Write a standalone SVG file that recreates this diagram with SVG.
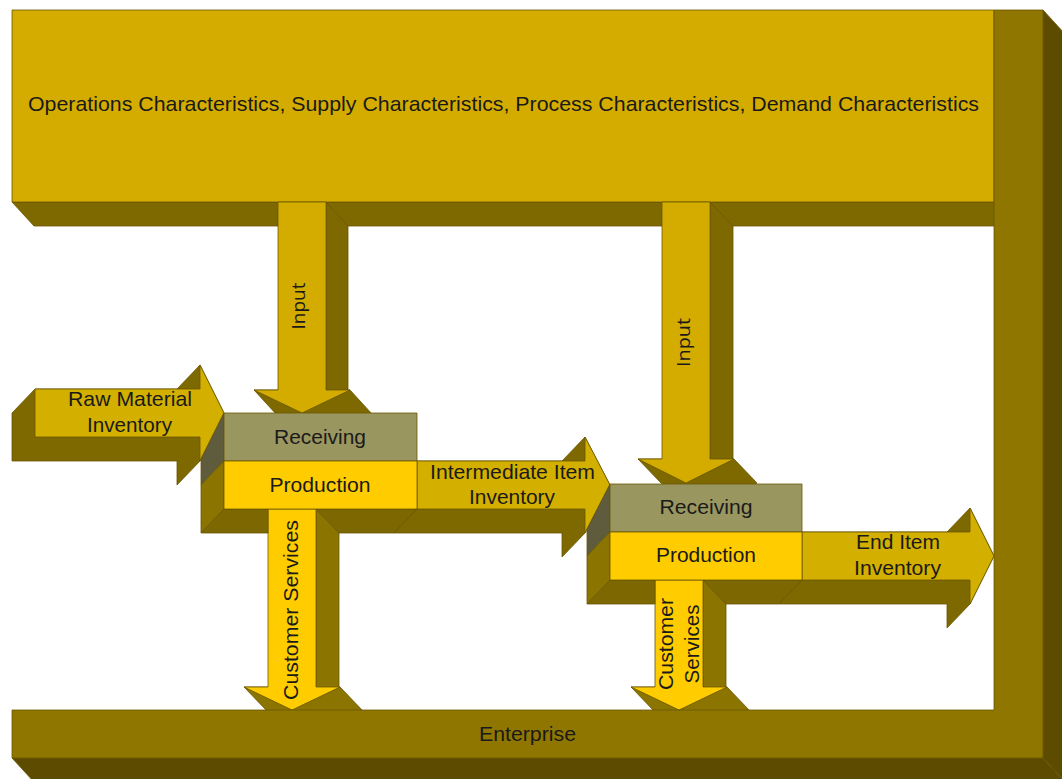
<svg xmlns="http://www.w3.org/2000/svg" width="1062" height="779" viewBox="0 0 1062 779">
<style>
  .e { stroke: #6A5700; stroke-width: 0.8; stroke-linejoin: round; }
  .gold { fill: #D4AC00; }
  .olive { fill: #7E6800; }
  .hfront { fill: #D3B000; }
  .yellow { fill: #FFCC00; }
  .csside { fill: #8C7400; }
  .recv { fill: #9A9660; }
  .recvside { fill: #5E5C3C; }
  .prodside { fill: #8C7400; }
  .prodbottom { fill: #7C6700; }
  .frame { fill: #8F7600; }
  .frameside { fill: #5D4C00; }
  text { font-family: "Liberation Sans", Arial, sans-serif; font-size: 21px; fill: #1A1A1A; }
  .mid { text-anchor: middle; }
  .inp { font-family: "Open Sans", "Noto Sans", sans-serif; font-size: 18px; text-anchor: middle; }
</style>

<g id="characteristics">
  <polygon class="olive e" points="12,202 994,202 1016,226 34,226"/>
  <rect class="gold e" x="12" y="10" width="982" height="192"/>
  <text x="28" y="111" textLength="951" lengthAdjust="spacingAndGlyphs">Operations Characteristics, Supply Characteristics, Process Characteristics, Demand Characteristics</text>
</g>

<g id="connectors">
  <g id="input-1">
    <polygon class="olive e" points="326,202 348,226 348,390 350,390 372,414 324,437 276,414 254,390 326,390"/>
    <polygon class="gold e" points="278,202 326,202 326,390 350,390 302,413 254,390 278,390"/>
    <text class="inp" transform="translate(305,306) rotate(-90)" textLength="47" lengthAdjust="spacingAndGlyphs">Input</text>
  </g>
  <g id="input-2">
    <polygon class="olive e" points="710,202 733,226 733,459 734,459 757,483 709,507 661,483 638,459 710,459"/>
    <polygon class="gold e" points="662,202 710,202 710,459 734,459 686,483 638,459 662,459"/>
    <text class="inp" transform="translate(690,342.5) rotate(-90)" textLength="49" lengthAdjust="spacingAndGlyphs">Input</text>
  </g>
  <g id="raw-material">
    <polygon class="olive e" points="35,389 12,413 12,461 177,461 177,485 200,461 224,413 200,365 177,389"/>
    <polygon class="hfront e" points="35,389 200,389 200,365 224,413 200,461 200,437 35,437"/>
    <text x="68" y="406" textLength="124" lengthAdjust="spacingAndGlyphs">Raw Material</text>
    <text x="87" y="432" textLength="85" lengthAdjust="spacingAndGlyphs">Inventory</text>
  </g>
  <g id="intermediate">
    <polygon class="olive e" points="417,461 394,485 394,533 562,533 562,557 585,533 610,485 585,437 562,461"/>
    <polygon class="hfront e" points="417,461 585,461 585,437 610,485 585,533 585,509 417,509"/>
    <text x="430" y="479" textLength="165" lengthAdjust="spacingAndGlyphs">Intermediate Item</text>
    <text x="469" y="504" textLength="86" lengthAdjust="spacingAndGlyphs">Inventory</text>
  </g>
  <g id="end-item">
    <polygon class="olive e" points="802,532 779,556 779,604 947,604 947,628 970,604 994,556 970,508 947,532"/>
    <polygon class="hfront e" points="802,532 970,532 970,508 994,556 970,604 970,580 802,580"/>
    <text x="856" y="549" textLength="84" lengthAdjust="spacingAndGlyphs">End Item</text>
    <text x="854" y="575" textLength="87" lengthAdjust="spacingAndGlyphs">Inventory</text>
  </g>
  <g id="customer-services-1">
    <polygon class="csside e" points="316,509 339,533 339,687 340,687 363,711 315,734 267,711 244,687 316,687"/>
    <polygon class="yellow e" points="268,509 316,509 316,687 340,687 292,710 244,687 268,687"/>
    <text class="mid" transform="translate(298,610) rotate(-90)" textLength="180" lengthAdjust="spacingAndGlyphs">Customer Services</text>
  </g>
  <g id="customer-services-2">
    <polygon class="csside e" points="703,580 726,604 726,687 727,687 750,711 702,734 654,711 631,687 703,687"/>
    <polygon class="yellow e" points="655,580 703,580 703,687 727,687 679,710 631,687 655,687"/>
    <text class="mid" transform="translate(673,644) rotate(-90)" textLength="92" lengthAdjust="spacingAndGlyphs">Customer</text>
    <text class="mid" transform="translate(699,644) rotate(-90)" textLength="79" lengthAdjust="spacingAndGlyphs">Services</text>
  </g>
</g>

<g id="stage-1">
  <polygon class="recvside e" points="224,413 201,459 201,485 224,461"/>
  <polygon class="prodside e" points="224,461 201,485 201,533 224,509"/>
  <polygon class="prodbottom e" points="224,509 201,533 268,533 268,509"/>
  <polygon class="prodbottom e" points="316,509 417,509 394,533 339,533"/>
  <rect class="recv e" x="224" y="413" width="193" height="48"/>
  <rect class="yellow e" x="224" y="461" width="193" height="48"/>
  <text class="mid" x="320" y="444" textLength="92" lengthAdjust="spacingAndGlyphs">Receiving</text>
  <text class="mid" x="320" y="492" textLength="101" lengthAdjust="spacingAndGlyphs">Production</text>
</g>

<g id="stage-2">
  <polygon class="recvside e" points="610,484 587,529 587,556 610,532"/>
  <polygon class="prodside e" points="610,532 587,556 587,604 610,580"/>
  <polygon class="prodbottom e" points="610,580 587,604 655,604 655,580"/>
  <polygon class="prodbottom e" points="703,580 802,580 779,604 726,604"/>
  <rect class="recv e" x="610" y="484" width="192" height="48"/>
  <rect class="yellow e" x="610" y="532" width="192" height="48"/>
  <text class="mid" x="706" y="514" textLength="93" lengthAdjust="spacingAndGlyphs">Receiving</text>
  <text class="mid" x="706" y="562" textLength="100" lengthAdjust="spacingAndGlyphs">Production</text>
</g>

<g id="enterprise">
  <polygon class="frameside e" points="1043,10 1065,34 1065,782 1043,758"/>
  <polygon class="frameside e" points="12,758 1043,758 1065,782 34,782"/>
  <path class="frame e" d="M994,10 H1043 V758 H12 V710 H994 Z"/>
  <text x="479" y="741" textLength="97" lengthAdjust="spacingAndGlyphs">Enterprise</text>
</g>
</svg>
